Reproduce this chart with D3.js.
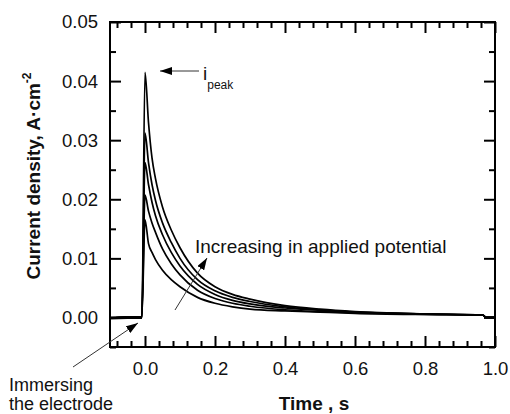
<!DOCTYPE html>
<html>
<head>
<meta charset="utf-8">
<script src="https://cdn.jsdelivr.net/npm/d3@7"></script>
<style>
  body { margin: 0; background: #fff; }
  svg { display: block; font-family: Arial, "Liberation Sans", sans-serif; }
</style>
</head>
<body>
<svg id="chart"></svg>
<script>
// Set dimensions
const width = 510;
const height = 414;
const margin = { top: 22, right: 15, bottom: 67, left: 110 };

// Data
const times = [-0.1, -0.05, -0.009, 0.0, 0.01, 0.02, 0.03, 0.05, 0.075, 0.1, 0.15, 0.2, 0.25, 0.3, 0.4, 0.5, 0.6, 0.8, 0.965, 0.975, 1.0];
const curveA = [-0.0001, 0.0000, 0.0000, 0.0415, 0.0330, 0.0270, 0.0235, 0.0187, 0.0148, 0.0118, 0.0075, 0.0052, 0.0039, 0.0031, 0.0020, 0.0014, 0.0010, 0.0006, 0.0004, 0.0000, 0.0000];
const curveB = [-0.0001, 0.0000, 0.0000, 0.0312, 0.0262, 0.0225, 0.0198, 0.0160, 0.0127, 0.0100, 0.0064, 0.0045, 0.0034, 0.0027, 0.0018, 0.0013, 0.0009, 0.0006, 0.0004, 0.0000, 0.0000];
const curveC = [-0.0001, 0.0000, 0.0000, 0.0262, 0.0225, 0.0195, 0.0172, 0.0140, 0.0110, 0.0087, 0.0056, 0.0039, 0.0029, 0.0023, 0.0016, 0.0012, 0.0009, 0.0006, 0.0004, 0.0000, 0.0000];
const curveD = [-0.0001, 0.0000, 0.0000, 0.0207, 0.0180, 0.0160, 0.0144, 0.0116, 0.0091, 0.0072, 0.0046, 0.0032, 0.0024, 0.0019, 0.0013, 0.0010, 0.0008, 0.0005, 0.0004, 0.0000, 0.0000];
const curveE = [-0.0001, 0.0000, 0.0000, 0.0165, 0.0125, 0.0110, 0.0098, 0.0080, 0.0064, 0.0052, 0.0034, 0.0024, 0.0018, 0.0014, 0.0011, 0.0009, 0.0007, 0.0005, 0.0004, 0.0000, 0.0000];
const allCurves = [curveA, curveB, curveC, curveD, curveE];

const xMajor = [0.0, 0.2, 0.4, 0.6, 0.8, 1.0];
const xMinor = [-0.08, -0.04, 0.04, 0.08, 0.12, 0.16, 0.24, 0.28, 0.32, 0.36, 0.44, 0.48, 0.52, 0.56, 0.64, 0.68, 0.72, 0.76, 0.84, 0.88, 0.92, 0.96];
const yMajor = [0.00, 0.01, 0.02, 0.03, 0.04, 0.05];
const yMinor = [-0.005, 0.005, 0.015, 0.025, 0.035, 0.045];

// Create SVG
const svg = d3.select('#chart')
  .attr('width', width)
  .attr('height', height);

const x = d3.scaleLinear().domain([-0.1, 1.0]).range([margin.left, width - margin.right]);
const y = d3.scaleLinear().domain([-0.005, 0.05]).range([height - margin.bottom, margin.top]);

const x0 = x.range()[0], x1 = x.range()[1];
const y0 = y.range()[0], y1 = y.range()[1];

// Axes with inward ticks, mirrored on all sides
function addAxis(axisFn, scale, values, size, transform, labels, padding) {
  const g = svg.append('g')
    .attr('transform', transform)
    .call(axisFn(scale).tickValues(values).tickSize(-size).tickPadding(padding)
      .tickFormat(labels ? d3.format('.' + labels + 'f') : ''));
  g.select('.domain').remove();
  g.selectAll('line').attr('stroke', '#000').attr('stroke-width', 2);
  g.selectAll('text').attr('font-size', 18.5).attr('fill', '#111');
  return g;
}

addAxis(d3.axisBottom, x, xMajor, 11, `translate(0,${y0})`, 1, 15);
addAxis(d3.axisBottom, x, xMinor, 6, `translate(0,${y0})`, null, 0);
addAxis(d3.axisTop, x, xMajor, 11, `translate(0,${y1})`, null, 0);
addAxis(d3.axisTop, x, xMinor, 6, `translate(0,${y1})`, null, 0);
addAxis(d3.axisLeft, y, yMajor, 11, `translate(${x0},0)`, 2, 12);
addAxis(d3.axisLeft, y, yMinor, 6, `translate(${x0},0)`, null, 0);
addAxis(d3.axisRight, y, yMajor, 11, `translate(${x1},0)`, null, 0);
addAxis(d3.axisRight, y, yMinor, 6, `translate(${x1},0)`, null, 0);

// Frame
svg.append('rect')
  .attr('x', x0).attr('y', y1)
  .attr('width', x1 - x0).attr('height', y0 - y1)
  .attr('fill', 'none').attr('stroke', '#000').attr('stroke-width', 2);

// Curves
const line = d3.line()
  .x((d, i) => x(times[i]))
  .y(d => y(d))
  .curve(d3.curveMonotoneX);

svg.selectAll('path.curve')
  .data(allCurves)
  .enter()
  .append('path')
  .attr('class', 'curve')
  .attr('d', line)
  .attr('fill', 'none')
  .attr('stroke', '#000')
  .attr('stroke-width', 1.7);

// thick baseline before immersion
svg.append('path')
  .attr('d', d3.line().x((d, i) => x(times[i])).y(d => y(d))(curveA.slice(0, 3)))
  .attr('fill', 'none')
  .attr('stroke', '#000')
  .attr('stroke-width', 3);

// Arrow heads
svg.append('defs').append('marker')
  .attr('id', 'head')
  .attr('viewBox', '0 0 12 8')
  .attr('refX', 12).attr('refY', 4)
  .attr('markerWidth', 12).attr('markerHeight', 8)
  .attr('markerUnits', 'userSpaceOnUse')
  .attr('orient', 'auto')
  .append('path')
  .attr('d', 'M0,0 L12,4 L0,8 Z')
  .attr('fill', '#000');

function arrow(xa, ya, xb, yb) {
  svg.append('line')
    .attr('x1', xa).attr('y1', ya).attr('x2', xb).attr('y2', yb)
    .attr('stroke', '#333').attr('stroke-width', 1)
    .attr('marker-end', 'url(#head)');
}

// i_peak annotation
arrow(199, 71, 160, 71);
const ip = svg.append('text').attr('x', 203).attr('y', 80).attr('font-size', 19).attr('fill', '#111');
ip.append('tspan').text('i');
ip.append('tspan').attr('dy', 9).attr('font-size', 12).text('peak');

// Increasing annotation
arrow(175, 310, 207, 258);
svg.append('text')
  .attr('x', 195).attr('y', 253)
  .attr('font-size', 19).attr('fill', '#111')
  .text('Increasing in applied potential');

// Immersing annotation
arrow(73, 367, 138, 323);
svg.append('text').attr('x', 9).attr('y', 391).attr('font-size', 18).attr('fill', '#111').text('Immersing');
svg.append('text').attr('x', 9).attr('y', 410).attr('font-size', 18).attr('fill', '#111').text('the electrode');

// Axis titles
svg.append('text')
  .attr('x', 314).attr('y', 410)
  .attr('text-anchor', 'middle')
  .attr('font-size', 19).attr('font-weight', 'bold').attr('fill', '#111')
  .text('Time , s');

const yt = svg.append('text')
  .attr('transform', 'translate(40,176) rotate(-90)')
  .attr('text-anchor', 'middle')
  .attr('font-size', 19).attr('font-weight', 'bold').attr('fill', '#111');
yt.append('tspan').text('Current density, A·cm');
yt.append('tspan').attr('dy', -9).attr('font-size', 12).text('-2');
</script>
</body>
</html>
